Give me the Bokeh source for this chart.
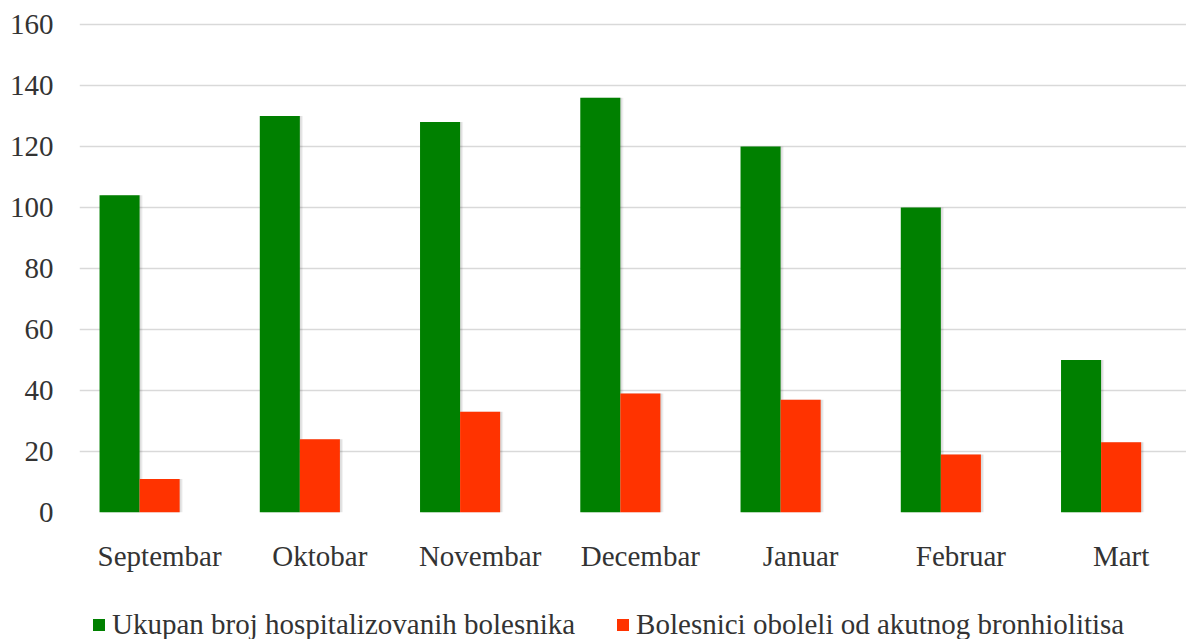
import numpy as np
from bokeh.plotting import figure
from bokeh.layouts import column
from bokeh.models import Range1d, FixedTicker, Legend, LegendItem
from bokeh.embed import file_html
from bokeh.resources import INLINE

# Monthly hospitalisation counts
months = ["Septembar", "Oktobar", "Novembar", "Decembar", "Januar", "Februar", "Mart"]
ukupno = [104, 130, 128, 136, 120, 100, 50]
bronhiolitis = [11, 24, 33, 39, 37, 19, 23]
y_ticks = [0, 20, 40, 60, 80, 100, 120, 140, 160]

series_names = ["Ukupan broj hospitalizovanih bolesnika",
                "Bolesnici oboleli od akutnog bronhiolitisa"]
colors = ["#008000", "#FF3300"]

FONT = "Liberation Serif"
FONT_SIZE = "29px"
TEXT_COLOR = "#333333"

W = 1186
MAIN_H, LEG_H = 580, 59
LEFT, TOP = 79, 15
FRAME_BOTTOM = 512
CAT_PX = 160.25  # pixel width of one month slot

frame_w = W - LEFT
frame_h = FRAME_BOTTOM - TOP
px_per_unit = 488 / 160.0

p = figure(width=W, height=MAIN_H, output_backend="svg", toolbar_location=None,
           x_range=Range1d(0, frame_w / CAT_PX),
           y_range=Range1d(0, frame_h / px_per_unit),
           min_border_left=LEFT, min_border_right=0,
           min_border_top=TOP, min_border_bottom=MAIN_H - FRAME_BOTTOM)
p.outline_line_color = None

centers = np.arange(len(months)) + 0.5
bar_w = 0.25
shift = 3.0 / CAT_PX  # soft drop shadow offset

# soft shadows behind the bars
for k, a in ((1.0, 0.06), (0.6, 0.08)):
    p.vbar(x=centers - bar_w + shift * k, top=ukupno, width=bar_w, bottom=0,
           fill_color="black", fill_alpha=a, line_color=None)
    p.vbar(x=centers + shift * k, top=bronhiolitis, width=bar_w, bottom=0,
           fill_color="black", fill_alpha=a, line_color=None)

p.vbar(x=centers - bar_w, top=ukupno, width=bar_w, bottom=0,
       fill_color=colors[0], line_color=None)
p.vbar(x=centers, top=bronhiolitis, width=bar_w, bottom=0,
       fill_color=colors[1], line_color=None)

# axes
p.xaxis.ticker = FixedTicker(ticks=list(centers))
p.xaxis.major_label_overrides = {float(c): m for c, m in zip(centers, months)}
p.yaxis.ticker = FixedTicker(ticks=y_ticks)
for ax in (p.xaxis[0], p.yaxis[0]):
    ax.axis_line_color = None
    ax.major_tick_line_color = None
    ax.minor_tick_line_color = None
    ax.major_label_text_font = FONT
    ax.major_label_text_font_size = FONT_SIZE
    ax.major_label_text_color = TEXT_COLOR
p.xaxis.major_label_standoff = 21
p.yaxis.major_label_standoff = 20

p.xgrid.grid_line_color = None
p.ygrid.grid_line_color = "#D9D9D9"
p.ygrid.grid_line_width = 1.5

# legend strip underneath the chart (its frame lines up with the chart's frame)
lg = figure(width=W, height=LEG_H, output_backend="svg", toolbar_location=None,
            x_range=Range1d(0, 1), y_range=Range1d(0, 1),
            x_axis_type=None, y_axis_type=None,
            min_border_left=0, min_border_right=0,
            min_border_top=0, min_border_bottom=0)
lg.outline_line_color = None
lg.grid.grid_line_color = None
# zero-height bars that only supply the legend swatches
swatches = [lg.vbar(x=[0.5], top=[0], bottom=[0], width=0.0,
                    fill_color=c, line_color=None)
            for c in colors]

legend = Legend(items=[LegendItem(label=n, renderers=[r])
                       for n, r in zip(series_names, swatches)],
                orientation="horizontal", location=(12, -2),
                padding=0, margin=0, spacing=40,
                glyph_width=15, glyph_height=15, label_standoff=6,
                label_text_font=FONT, label_text_font_size=FONT_SIZE,
                label_text_color=TEXT_COLOR,
                border_line_color=None, background_fill_alpha=0)
lg.add_layout(legend, "center")

layout = column(p, lg, spacing=0)
open("out.html", "w").write(file_html(layout, INLINE))
